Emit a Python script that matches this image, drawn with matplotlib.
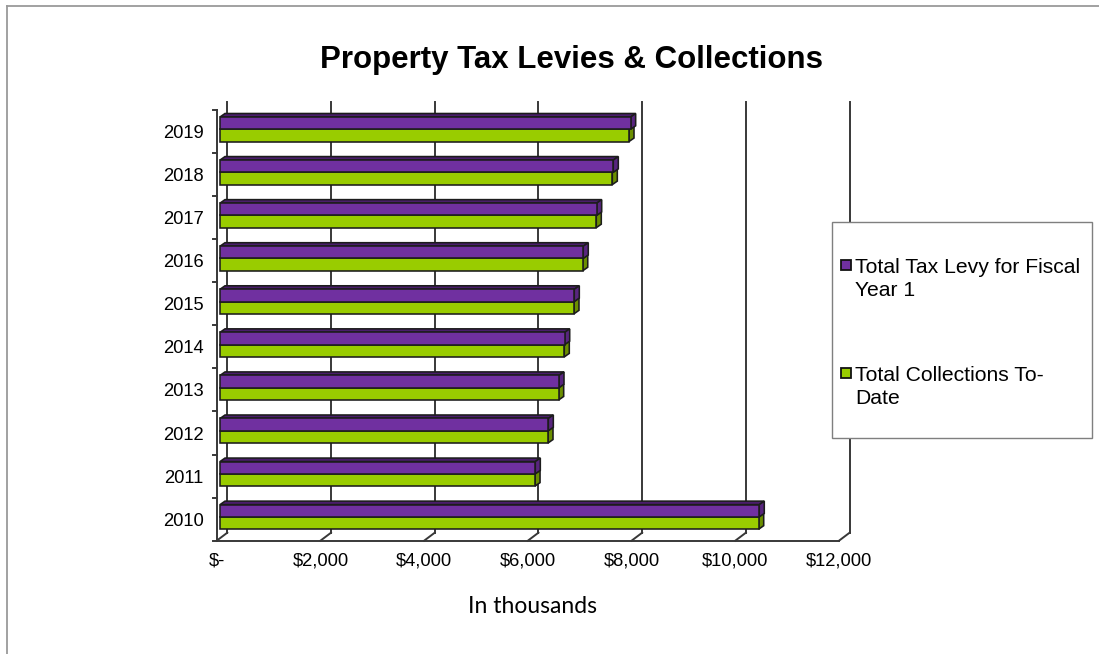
import numpy as np
import matplotlib.pyplot as plt
from matplotlib.patches import Polygon, Rectangle
from matplotlib.lines import Line2D

plt.rcParams['font.family'] = ['Liberation Sans', 'DejaVu Sans']

years = ["2010", "2011", "2012", "2013", "2014",
         "2015", "2016", "2017", "2018", "2019"]
levy = [10399, 6080, 6331, 6537, 6647, 6832, 7005, 7264, 7584, 7919]
collections = [10388, 6075, 6325, 6531, 6639, 6826, 6995, 7256, 7565, 7887]
series_names = ["Total Tax Levy for Fiscal\nYear 1",
                "Total Collections To-\nDate"]
xticks = [0, 2000, 4000, 6000, 8000, 10000, 12000]
xtick_labels = ["$-", "$2,000", "$4,000", "$6,000", "$8,000", "$10,000",
                "$12,000"]

W, H = 1099, 654
fig = plt.figure(figsize=(W / 100, H / 100), dpi=100)


def fx(px):
    return px / W


def fy(py):
    return 1 - py / H


# front plane of the plot area (pixels, measured from top-left)
x0, x1 = 216.7, 839.0
ytop, ybot = 110.0, 540.7
ax = fig.add_axes([fx(x0), fy(ybot), fx(x1 - x0), (ybot - ytop) / H])
ax.set_xlim(0, 12000)
ax.set_ylim(-0.5, 9.5)
for s in ax.spines.values():
    s.set_visible(False)

px_per_x = (x1 - x0) / 12000
px_per_y = (ybot - ytop) / 10

# depth of the floor / walls and of the bars (pixels)
wall_dx, wall_dy = 10.6, 8.0
bar_dx, bar_dy = 5.0, 3.5
wdx, wdy = wall_dx / px_per_x, wall_dy / px_per_y
bdx, bdy = bar_dx / px_per_x, bar_dy / px_per_y

grid_c = "#383838"
glw = 1.4
# back wall gridlines and floor slants
for xv in xticks:
    ax.plot([xv + wdx, xv + wdx], [-0.5 + wdy, 9.5 + wdy], color=grid_c,
            lw=glw, clip_on=False, zorder=1)
    ax.plot([xv, xv + wdx], [-0.5, -0.5 + wdy], color=grid_c, lw=glw,
            clip_on=False, zorder=1)
# front floor edge
ax.plot([0, 12000], [-0.5, -0.5], color=grid_c, lw=glw, clip_on=False,
        zorder=1)
# left axis line with ticks
ax.plot([0, 0], [-0.5, 9.5], color=grid_c, lw=glw, clip_on=False, zorder=1)
for yv in np.arange(-0.5, 10, 1.0):
    ax.plot([-4 / px_per_x, 0], [yv, yv], color=grid_c, lw=glw,
            clip_on=False, zorder=1)

# bars: front face via barh, top and side faces as polygons
bar_off = 3.3 / px_per_x
purple, purple_top, purple_side = "#7030A0", "#4a1d6c", "#58257f"
green, green_top, green_side = "#99CC00", "#7aa300", "#6b8f00"
edge = "#1c1c1c"
elw = 1.15
h = 0.285
pos = np.arange(len(years))


def box(y, v, ftop, fside):
    yb, yt = y - h / 2, y + h / 2
    ax.add_patch(Polygon([(bar_off, yt), (bar_off + v, yt),
                          (bar_off + v + bdx, yt + bdy),
                          (bar_off + bdx, yt + bdy)],
                         closed=True, fc=ftop, ec=edge, lw=elw, zorder=3))
    ax.add_patch(Polygon([(bar_off + v, yb), (bar_off + v + bdx, yb + bdy),
                          (bar_off + v + bdx, yt + bdy), (bar_off + v, yt)],
                         closed=True, fc=fside, ec=edge, lw=elw, zorder=3))


for i in pos:
    box(i - 0.09, collections[i], green_top, green_side)
    ax.barh(i - 0.09, collections[i], height=h, left=bar_off, color=green,
            edgecolor=edge, linewidth=elw, zorder=4)
    box(i + 0.195, levy[i], purple_top, purple_side)
    ax.barh(i + 0.195, levy[i], height=h, left=bar_off, color=purple,
            edgecolor=edge, linewidth=elw, zorder=5)

ax.set_yticks(pos)
ax.set_yticklabels(years, fontsize=13.2)
ax.set_xticks(xticks)
ax.set_xticklabels(xtick_labels, fontsize=13.2)
ax.tick_params(axis="y", length=0, pad=9.5)
ax.tick_params(axis="x", length=0, pad=8.5)

# title and axis note
fig.text(fx(572), fy(68.3), "Property Tax Levies & Collections",
         fontsize=22.5, fontweight="bold", ha="center", va="baseline")
fig.text(fx(532.7), fy(606.7), "In thousands", fontsize=16.5,
         family=["Lato", "DejaVu Sans"], ha="center", va="center")

# legend box
fig.add_artist(Rectangle((fx(832), fy(438)), fx(1091.7 - 832), (438 - 222.3) / H,
                         transform=fig.transFigure, fc="white", ec="#7f7f7f",
                         lw=1.0))
leg_colors = [purple, green]
leg_y = [265.0, 373.3]
for name, c, yc in zip(series_names, leg_colors, leg_y):
    fig.add_artist(Rectangle((fx(840.5), fy(yc + 5)), fx(10), 10 / H,
                             transform=fig.transFigure, fc=c, ec="#111111",
                             lw=1.3))
    for k, line in enumerate(name.split("\n")):
        fig.text(fx(855), fy(yc + 7.7 + 23.3 * k), line, fontsize=15.2,
                 ha="left", va="baseline")

# outer chart border (top and left edges)
fig.add_artist(Line2D([fx(7), 1], [fy(6), fy(6)], transform=fig.transFigure,
                      color="#9a9a9a", lw=1.3))
fig.add_artist(Line2D([fx(7), fx(7)], [fy(6), 0], transform=fig.transFigure,
                      color="#9a9a9a", lw=1.3))

fig.savefig("out.png", dpi=100)
